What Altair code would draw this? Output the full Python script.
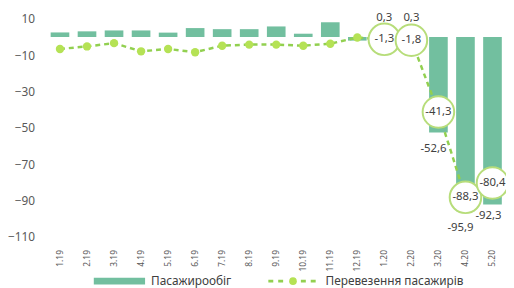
import altair as alt
import pandas as pd

months = ["1.19", "2.19", "3.19", "4.19", "5.19", "6.19", "7.19", "8.19", "9.19",
          "10.19", "11.19", "12.19", "1.20", "2.20", "3.20", "4.20", "5.20"]
turnover = [2.5, 3.1, 3.6, 3.6, 2.4, 4.9, 4.3, 4.3, 5.8, 1.8, 8.1, -2.0,
            0.3, 0.3, -52.6, -95.9, -92.3]
passengers = [-6.6, -5.2, -3.4, -7.9, -6.6, -8.4, -4.8, -4.2, -4.2, -4.8, -3.7, -0.3,
              -1.3, -1.8, -41.3, -88.3, -80.4]
labelled = ["1.20", "2.20", "3.20", "4.20", "5.20"]
y_ticks = [10, -10, -30, -50, -70, -90, -110]

S1 = "Пасажирообіг"
S2 = "Перевезення пасажирів"
BAR = "#72BF9F"
LINE = "#92D050"
DOT = "#B5E255"
RING = "#B7DD7A"
TXT = "#404040"
FONT = "Noto Sans"


def fmt(v):
    return f"{v:.1f}".replace(".", ",")


df = pd.DataFrame({
    "m": months,
    "t": turnover,
    "p": passengers,
    "tl": [fmt(v) for v in turnover],
    "pl": [fmt(v) for v in passengers],
    "big": [m in labelled for m in months],
})

x = alt.X("m:N", sort=months,
          scale=alt.Scale(paddingInner=0.31, paddingOuter=0.155),
          axis=alt.Axis(title=None, labelAngle=-90, labelFontSize=8.5, labelColor="#595959",
                        labelFont=FONT, ticks=False, domain=False, labelPadding=13,
                        labelBaseline="middle", labelAlign="right"))
yscale = alt.Scale(domain=[-110, 10], nice=False, zero=False)

base = alt.Chart(df)

bars = base.mark_bar(color=BAR).encode(
    x=x,
    y=alt.Y("t:Q", scale=yscale,
            axis=alt.Axis(title=None, values=y_ticks, tickCount=20, grid=False, ticks=False,
                          domain=False, labelFontSize=12, labelColor="#595959", labelFont=FONT,
                          labelPadding=12, labelOverlap=False)),
)

line = base.mark_line(strokeDash=[5, 4], strokeWidth=2.5, color=LINE).encode(
    x=x, y=alt.Y("p:Q", scale=yscale),
)

dots = base.transform_filter("!datum.big").mark_point(
    shape="circle", filled=True, size=72, color=DOT, opacity=1
).encode(x=x, y=alt.Y("p:Q", scale=yscale))

rings = base.transform_filter("datum.big").mark_point(
    shape="circle", filled=False, size=1024, stroke=RING, strokeWidth=2, fill="white",
    fillOpacity=1, opacity=1
).encode(x=x, y=alt.Y("p:Q", scale=yscale))

ring_text = base.transform_filter("datum.big").mark_text(
    fontSize=11.5, font=FONT, color=TXT
).encode(x=x, y=alt.Y("p:Q", scale=yscale), text="pl:N")

pos_lab = base.transform_filter("datum.big && datum.t > 0").mark_text(
    fontSize=11.5, font=FONT, color=TXT, dy=-19
).encode(x=x, y=alt.Y("t:Q", scale=yscale), text="tl:N")

neg_lab = base.transform_filter("datum.big && datum.t < 0 && datum.m != '5.20'").mark_text(
    fontSize=11.5, font=FONT, color=TXT, dy=17, dx=-5
).encode(x=x, y=alt.Y("t:Q", scale=yscale), text="tl:N")

last_lab = base.transform_filter("datum.m == '5.20'").mark_text(
    fontSize=11.5, font=FONT, color=TXT, dy=12, dx=-4
).encode(x=x, y=alt.Y("t:Q", scale=yscale), text="tl:N")

# legend (drawn below the axis labels)
one = alt.Chart(pd.DataFrame({"k": [0]}))
LY = 266
leg_rect = one.mark_rect(color=BAR).encode(
    x=alt.value(48), x2=alt.value(100), y=alt.value(LY - 3.5), y2=alt.value(LY + 3.5))
leg_t1 = one.mark_text(align="left", baseline="middle", fontSize=12, font=FONT,
                       color=TXT).encode(x=alt.value(106), y=alt.value(LY), text=alt.value(S1))
leg_d1 = one.mark_rule(color=LINE, strokeWidth=3, strokeDash=[5, 5]).encode(
    x=alt.value(225), x2=alt.value(240), y=alt.value(LY))
leg_d2 = one.mark_rule(color=LINE, strokeWidth=3, strokeDash=[5, 5]).encode(
    x=alt.value(258), x2=alt.value(273), y=alt.value(LY))
leg_dot = one.mark_point(shape="circle", filled=True, size=60, color=DOT, opacity=1).encode(
    x=alt.value(250), y=alt.value(LY))
leg_t2 = one.mark_text(align="left", baseline="middle", fontSize=12, font=FONT,
                       color=TXT).encode(x=alt.value(283), y=alt.value(LY), text=alt.value(S2))

chart = alt.layer(bars, line, dots, rings, ring_text, pos_lab, neg_lab, last_lab,
                  leg_rect, leg_t1, leg_d1, leg_d2, leg_dot, leg_t2).properties(
    width=466, height=221,
    autosize=alt.AutoSizeParams(type="none"),
    padding={"left": 39, "top": 9, "right": 0, "bottom": 50},
).configure_view(stroke=None)

chart.save("out.html", embed_options={"renderer": "svg", "actions": False})
